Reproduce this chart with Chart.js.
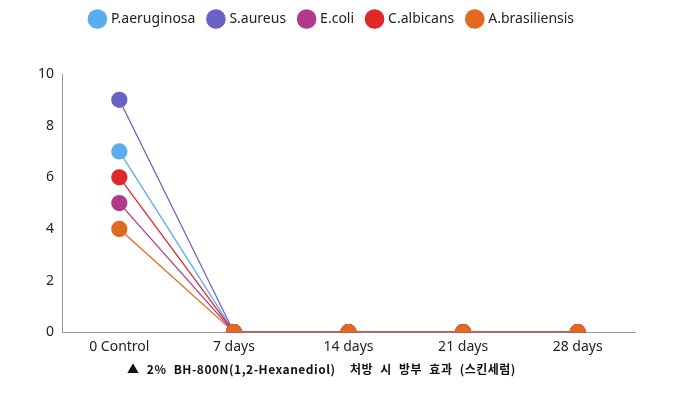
<!DOCTYPE html>
<html><head><meta charset="utf-8">
<script src="https://cdn.jsdelivr.net/npm/chart.js@4"></script>
<style>
html,body{margin:0;padding:0;background:#fff;}
#wrap{position:relative;width:673px;height:397px;}
#caption{position:absolute;left:0;width:673px;top:360px;text-align:center;font-family:"Noto Sans CJK KR","Noto Sans",sans-serif;font-weight:bold;font-size:12px;color:#111;padding-right:30px;box-sizing:border-box;letter-spacing:0.5px;word-spacing:4px;}
</style></head>
<body><div id="wrap"><canvas id="c" width="673" height="397"></canvas>
<div id="caption">▲ 2% BH-800N(1,2-Hexanediol)&nbsp; 처방 시 방부 효과 (스킨세럼)</div></div>
<script>
const categories = ["0 Control", "7 days", "14 days", "21 days", "28 days"];
const pAeruginosa = [7, 0, 0, 0, 0];
const sAureus = [9, 0, 0, 0, 0];
const eColi = [5, 0, 0, 0, 0];
const cAlbicans = [6, 0, 0, 0, 0];
const aBrasiliensis = [4, 0, 0, 0, 0];
const yTicks = [0, 2, 4, 6, 8, 10];

function ds(label, data, color, order){
  return {label, data, borderColor: color, backgroundColor: color, pointBackgroundColor: color,
    pointBorderColor: color, pointRadius: 7.5, pointHoverRadius: 7.5, borderWidth: 1.3, order, tension: 0};
}
new Chart(document.getElementById('c'), {
  type: 'line',
  data: {labels: categories, datasets: [
    ds('P.aeruginosa', pAeruginosa, '#5aabf0', 4),
    ds('S.aureus', sAureus, '#6a62c6', 3),
    ds('E.coli', eColi, '#b23a8c', 2),
    ds('C.albicans', cAlbicans, '#e0282a', 1),
    ds('A.brasiliensis', aBrasiliensis, '#df6a20', 0)
  ]},
  options: {
    responsive: false, animation: false,
    layout: {padding: {left: 30, right: 38, top: -2, bottom: 36}},
    plugins: {
      legend: {position: 'top', labels: {usePointStyle: true, pointStyle: 'circle', boxWidth: 13, boxHeight: 13,
        padding: 14, color: '#222', font: {family: '"Noto Sans", sans-serif', size: 14},
        sort: (a, b) => a.datasetIndex - b.datasetIndex}},
      tooltip: {enabled: false}
    },
    scales: {
      x: {offset: true, grid: {display: false, drawTicks: false}, border: {color: '#999'},
        ticks: {color: '#222', padding: 6, font: {family: '"Noto Sans", sans-serif', size: 14}}},
      y: {min: 0, max: 10, afterBuildTicks: a => { a.ticks = yTicks.map(v => ({value: v})); },
        grid: {display: false, drawTicks: false}, border: {color: '#999'},
        ticks: {color: '#222', padding: 8, font: {family: '"Noto Sans", sans-serif', size: 14}}}
    }
  },
  plugins: [{id:'legendMargin', beforeInit(chart){ const f = chart.legend.fit; chart.legend.fit = function(){ f.bind(chart.legend)(); this.height += 38; }; }}]
});
</script></body></html>
